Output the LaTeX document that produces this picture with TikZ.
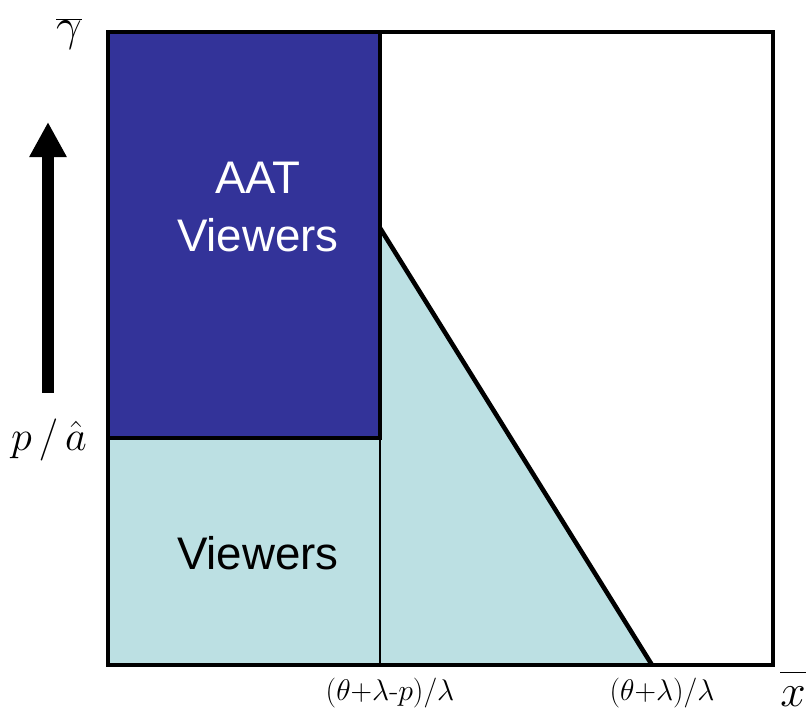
\RequirePackage{fix-cm}
\documentclass[tikz,border=0pt]{standalone}
\usepackage{fontspec}
\setsansfont{Liberation Sans}
\usetikzlibrary{arrows.meta,positioning}
\definecolor{aatblue}{RGB}{51,51,153}
\definecolor{viewcyan}{RGB}{188,224,227}

\begin{document}
\begin{tikzpicture}[x=0.02cm, y=-0.02cm,
    frameline/.style={line width=2.6pt},
    thinline/.style={line width=1.1pt},
    areatext/.style={font=\sffamily\fontsize{26}{33}\selectfont, align=center},
    axlabel/.style={font=\fontsize{26}{30}\selectfont, anchor=base, inner sep=1pt},
    ticklabel/.style={font=\fontsize{17}{20}\selectfont, anchor=base, inner sep=1pt},
]
    \useasboundingbox (0,0) rectangle (806,715);

    % corners of the frame and of the regions
    \coordinate (bl) at (108,665);
    \coordinate (tr) at (773,32);
    \coordinate (tl) at (108,32);
    \coordinate (mid-top) at (380,32);
    \coordinate (mid-low) at (380,438);
    \coordinate (mid-bot) at (380,665);
    \coordinate (left-low) at (108,438);
    \coordinate (kink) at (380,228);
    \coordinate (foot) at (652,665);

    % regions
    \fill[viewcyan] (left-low) -- (mid-low) -- (kink) -- (foot) -- (bl) -- cycle;
    \fill[aatblue] (tl) rectangle (mid-low);

    % lines
    \draw[thinline] (mid-low) -- (mid-bot);
    \draw[frameline, line join=miter] (kink) -- (foot);
    \draw[frameline] (left-low) -- (mid-low) -- (mid-top);
    \draw[frameline] (bl) rectangle (tr);

    % area labels
    \node[areatext, text=white] (aat) at (258,207) {AAT\\Viewers};
    \node[areatext] (view) at (258,553) {Viewers};

    % axis labels
    \node[axlabel] (ylab) at (69,41) {$\overline{\gamma}$};
    \node[axlabel] (xlab) at (793,707) {$\overline{\vphantom{l}x}$};
    \node[axlabel, font=\fontsize{24}{28}\selectfont] (plab) at (49,451) {$p\,/\,\hat{a}$};
    \node[ticklabel] (t1) at (390,701) {$(\theta{+}\lambda\mbox{-}p)/\lambda$};
    \node[ticklabel] (t2) at (662,701) {$(\theta{+}\lambda)/\lambda$};

    % rising arrow
    \coordinate (arr-s) at (48,393);
    \coordinate (arr-e) at (48,122);
    \draw[line width=6.8pt, -{Triangle[length=20pt,width=20pt]}] (arr-s) -- (arr-e);
\end{tikzpicture}
\end{document}
